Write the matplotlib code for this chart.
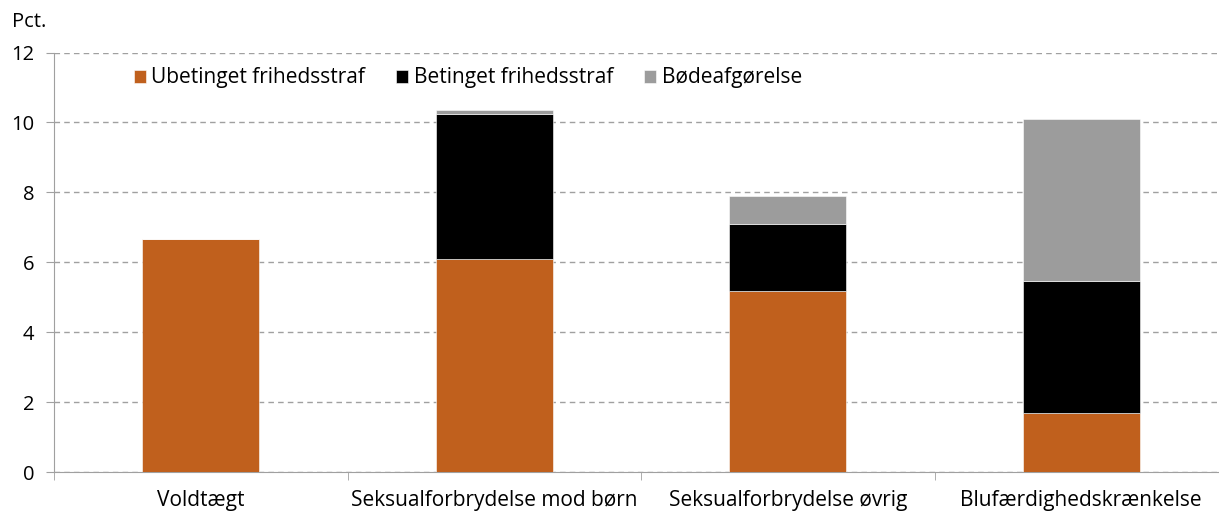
import matplotlib
matplotlib.use("Agg")
import matplotlib.pyplot as plt
import numpy as np

categories = ["Voldtægt", "Seksualforbrydelse mod børn", "Seksualforbrydelse øvrig", "Blufærdighedskrænkelse"]
ubetinget = [6.66, 6.08, 5.17, 1.69]
betinget = [0.0, 4.17, 1.91, 3.77]
boede = [0.0, 0.11, 0.81, 4.63]
series_names = ["Ubetinget frihedsstraf", "Betinget frihedsstraf", "Bødeafgørelse"]
colors = ["#C0601D", "#000000", "#9C9C9C"]
yticks = [0, 2, 4, 6, 8, 10, 12]

plt.rcParams['font.family'] = ['Open Sans', 'DejaVu Sans']

fig = plt.figure(figsize=(12.19, 5.13), dpi=100)
left, right, top, bottom = 54, 1228, 52.5, 472
ax = fig.add_axes([left/1219, 1 - bottom/513, (right-left)/1219, (bottom-top)/513])

x = np.arange(len(categories))
w = 0.40
b1 = np.array(ubetinget)
b2 = b1 + np.array(betinget)
ax.bar(x, ubetinget, w, color=colors[0], label=series_names[0], edgecolor="white", linewidth=0.4, zorder=3)
ax.bar(x, betinget, w, bottom=b1, color=colors[1], label=series_names[1], edgecolor="white", linewidth=0.4, zorder=3)
ax.bar(x, boede, w, bottom=b2, color=colors[2], label=series_names[2], edgecolor="white", linewidth=0.4, zorder=3)

ax.set_xlim(-0.5, len(categories) - 0.5)
ax.set_ylim(0, 12)
ax.set_yticks(yticks)
ax.set_yticklabels([str(t) for t in yticks], fontsize=14.5)
ax.yaxis.grid(True, linestyle=(0, (4, 3)), color="#A0A0A0", linewidth=1.0, zorder=0)
ax.set_xticks(x)
ax.set_xticklabels(categories, fontsize=15)
ax.tick_params(axis='x', which='major', length=0, pad=13)
ax.set_xticks(np.arange(len(categories) + 1) - 0.5, minor=True)
ax.tick_params(axis='x', which='minor', length=6, color="#A0A0A0", direction='out')
ax.tick_params(axis='y', length=6, color="#A0A0A0", pad=8)

for s in ["top", "right"]:
    ax.spines[s].set_visible(False)
ax.spines["left"].set_color("#A0A0A0")
ax.spines["bottom"].set_color("#A0A0A0")
ax.spines["left"].set_zorder(4)

fig.text(12/1219, 1 - 22/513, "Pct.", fontsize=14.5, va="center", ha="left")

ax.legend(loc="center left", bbox_to_anchor=(80/(right-left), 1 - (78-top)/(bottom-top)), ncol=3, frameon=False,
          fontsize=15, handlelength=0.58, handleheight=0.58, handletextpad=0.25, columnspacing=1.5,
          borderpad=0.0, borderaxespad=0.0)

fig.savefig("out.png", dpi=100)
